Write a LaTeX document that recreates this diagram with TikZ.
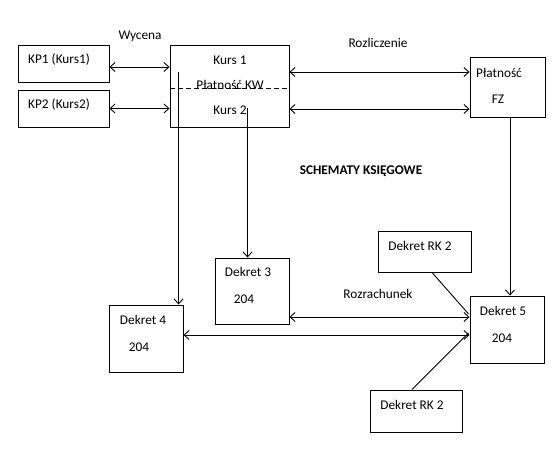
\documentclass[tikz,border=0pt]{standalone}
\usepackage{fontspec}
\setmainfont{Carlito}
\usetikzlibrary{arrows.meta,calc}
\tikzset{
  box/.style={draw, line width=0.9pt, inner sep=0pt, fill=white},
  txt/.style={inner sep=0pt, font=\fontsize{13.3}{16}\selectfont},
  conn/.style={line width=0.9pt},
  biarrow/.style={conn, {Straight Barb[length=5pt,width=9pt]}-{Straight Barb[length=5pt,width=9pt]}},
  onearrow/.style={conn, -{Straight Barb[length=5pt,width=9pt]}},
}
\begin{document}
\begin{tikzpicture}[x=1pt,y=-1pt]
\useasboundingbox[fill=white] (0,0) rectangle (560,449);
% boxes
\node[box, minimum width=91pt, minimum height=37pt] (kp1) at (63.5,63.5) {};
\node[box, minimum width=91pt, minimum height=37pt] (kp2) at (63.5,108.5) {};
\node[box, minimum width=119pt, minimum height=82pt] (kurs) at (229.5,86) {};
\node[box, minimum width=75pt, minimum height=60pt] (fz) at (507.5,87) {};
\node[box, minimum width=74pt, minimum height=66pt] (dek3) at (252,291) {};
\node[box, minimum width=74pt, minimum height=67pt] (dek4) at (146,338.5) {};
\node[box, minimum width=74pt, minimum height=67pt] (dek5) at (507,329.5) {};
\node[box, minimum width=93pt, minimum height=41pt] (rka) at (424.5,251.5) {};
\node[box, minimum width=92pt, minimum height=42pt] (rkb) at (416,411) {};
% dashed separator in Kurs box
\draw[conn, dashed, dash pattern=on 5pt off 3pt] (kurs.west |- 0,88) -- (kurs.east |- 0,88);
% texts
\node[txt] (t1) at (59,60) {KP1 (Kurs1)};
\node[txt] (t2) at (59,105) {KP2 (Kurs2)};
\node[txt] (t3) at (230,60) {Kurs 1};
\node[txt] (t4) at (230,85) {Płatność KW};
\node[txt] (t5) at (230,110) {Kurs 2};
\node[txt] (t6) at (499,73) {Płatność};
\node[txt] (t7) at (498,99) {FZ};
\node[txt] (t8) at (248,272) {Dekret 3};
\node[txt] (t9) at (244,299) {204};
\node[txt] (t10) at (143,320) {Dekret 4};
\node[txt] (t11) at (139,347) {204};
\node[txt] (t12) at (503,311) {Dekret 5};
\node[txt] (t13) at (502,338) {204};
\node[txt] (t14) at (420,246) {Dekret RK 2};
\node[txt] (t15) at (412,405) {Dekret RK 2};
% labels
\node[txt] (l1) at (140,36) {Wycena};
\node[txt] (l2) at (378,43) {Rozliczenie};
\node[txt, font=\fontsize{13.3}{16}\selectfont\bfseries] (l3) at (361,171) {SCHEMATY KSIĘGOWE};
\node[txt] (l4) at (378,294) {Rozrachunek};
% connectors
\draw[biarrow] ($(kp1.east)+(0,3.5)$) -- ($(kurs.west)+(0,-19)$);
\draw[biarrow] (kp2.east) -- (kp2.east -| kurs.west);
\draw[biarrow] ($(kurs.east)+(0,-14)$) -- ($(fz.west)+(0,-15)$);
\draw[biarrow] ($(kurs.east)+(0,23)$) -- ($(fz.west)+(0,22)$);
\coordinate (k1) at ($(kurs.north west)+(9,27)$);
\coordinate (k2) at ($(kurs.north west)+(78,63)$);
\draw[onearrow] (k1) -- (k1 |- dek4.north);
\draw[onearrow] (k2) -- (k2 |- dek3.north);
\coordinate (f1) at ($(fz.south)+(2.5,0)$);
\draw[onearrow] (f1) -- (f1 |- dek5.north);
\draw[biarrow] ($(dek3.east)+(0,26)$) -- ($(dek5.west)+(0,-12.5)$);
\draw[biarrow] ($(dek4.east)+(0,-3.5)$) -- ($(dek5.west)+(0,5.5)$);
\draw[conn] ($(rka.south)+(7.5,0)$) -- ($(dek5.west)+(-1,-15.5)$);
\draw[conn] ($(rkb.north)+(-4,0)$) -- ($(dek5.west)+(-1,3.5)$);
\end{tikzpicture}
\end{document}
